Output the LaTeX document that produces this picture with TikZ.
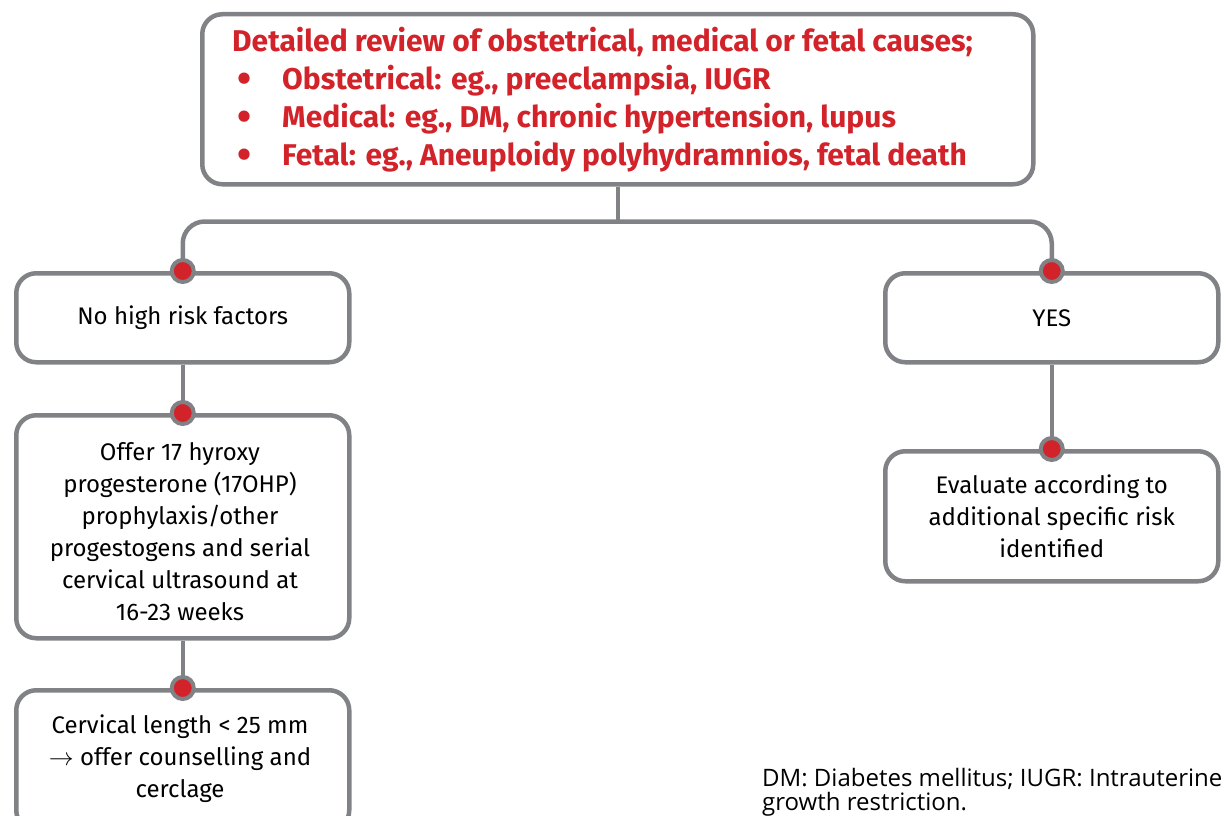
\documentclass[tikz,border=0pt]{standalone}
\usepackage{fontspec}
\setmainfont{Fira Sans}
\newfontfamily\notefont{Open Sans}
\definecolor{boxgray}{HTML}{808285}
\definecolor{accent}{HTML}{D2232A}
\newcommand{\listdot}{\makebox[50pt][l]{\hspace{5pt}\raisebox{-0.1em}{\scalebox{1.35}{\textbullet}}}}
\begin{document}
\begin{tikzpicture}[x=1pt,y=-1pt,
  box/.style={draw=boxgray, line width=4.5pt, rounded corners=20pt, fill=white,
    minimum width=333pt, align=center, inner sep=0pt, font=\fontsize{24}{32}\selectfont},
  bodytext/.style={align=center, inner sep=0pt, font=\fontsize{24}{32}\selectfont},
  conn/.style={draw=boxgray, line width=4.5pt},
  dot/.style={circle, draw=boxgray, line width=4pt, fill=accent, minimum size=22pt, inner sep=0pt}]
\useasboundingbox (0,0) rectangle (1223,816);

% top box with the list of causes
\node[box, minimum width=831pt, minimum height=170pt, anchor=north west] (top) at (200,12) {};
\node[anchor=north west, align=left, text=accent, inner sep=0pt,
      font=\fontsize{30}{38}\bfseries\selectfont] (toptext) at (232,27)
  {Detailed review of obstetrical, medical or fetal causes;\\
   \listdot Obstetrical: eg., preeclampsia, IUGR\\
   \listdot Medical: eg., DM, chronic hypertension, lupus\\
   \listdot Fetal: eg., Aneuploidy polyhydramnios, fetal death};

% left branch
\node[box, minimum height=89pt, anchor=north west] (l1) at (14,271) {No high risk factors};
\node[box, minimum height=223pt, anchor=north west] (l2) at (14,413) {};
\node[bodytext] (l2text) at (180,532)
  {Offer 17 hyroxy\\progesterone (17OHP)\\prophylaxis/other\\progestogens and serial\\cervical ultrasound at\\16-23 weeks};
\node[box, minimum height=140pt, anchor=north west] (l3) at (14,688) {};
\node[bodytext] (l3text) at (180,759)
  {Cervical length < 25 mm\\$\rightarrow$ offer counselling and\\cerclage};

% right branch
\node[box, minimum height=89pt, anchor=north west] (r1) at (883,271) {YES};
\node[box, minimum height=130pt, anchor=north west] (r2) at (883,449) {};
\node[bodytext] (r2text) at (r2.center)
  {Evaluate according to\\additional specific risk\\identified};

% connectors
\draw[conn] (top.south) -- ++(0,35) coordinate (split);
\draw[conn, rounded corners=22pt] (l1.north) -- (l1.north |- split) -- (r1.north |- split) -- (r1.north);
\draw[conn] (l1.south) -- (l2.north);
\draw[conn] (l2.south) -- (l3.north);
\draw[conn] (r1.south) -- (r2.north);

% junction dots
\node[dot] (d1) at (l1.north) {};
\node[dot] (d2) at (l2.north) {};
\node[dot] (d3) at (l3.north) {};
\node[dot] (d4) at (r1.north) {};
\node[dot] (d5) at (r2.north) {};

% footnote
\node[anchor=base west, align=left, inner sep=0pt, font=\notefont\fontsize{24}{24}\selectfont] (note) at (762,810)
  {DM: Diabetes mellitus; IUGR: Intrauterine\\growth restriction.};
\end{tikzpicture}
\end{document}
